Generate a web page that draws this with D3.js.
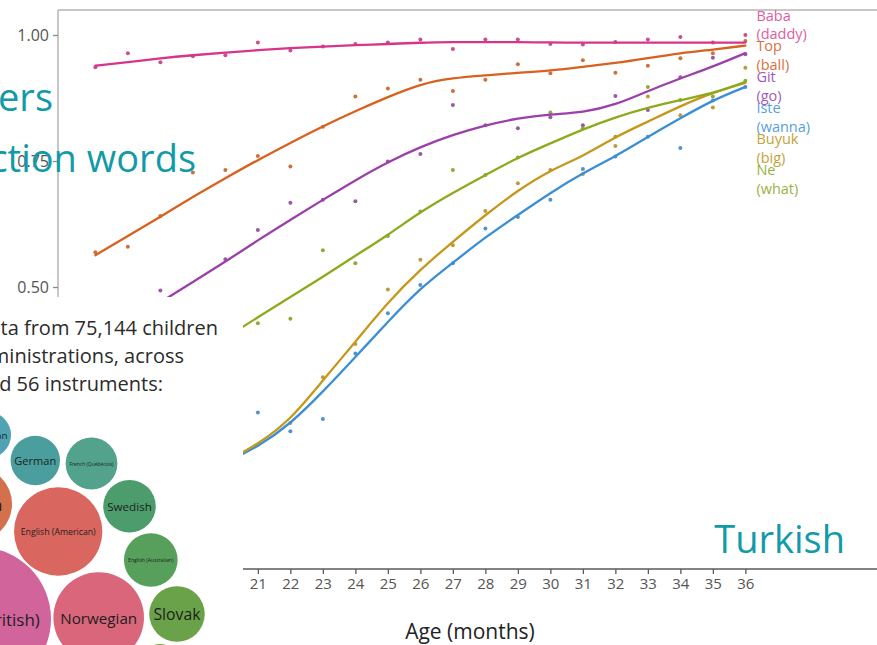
<!DOCTYPE html>
<html><head><meta charset="utf-8">
<script src="https://cdn.jsdelivr.net/npm/d3@7"></script>
<style>
body{margin:0;background:#fff;overflow:hidden;}
svg{display:block;font-family:"Open Sans",sans-serif;}
</style>
</head><body>
<svg id="c" width="877" height="645"></svg>
<script>
// ---------- data ----------
const months = [16,17,18,19,20,21,22,23,24,25,26,27,28,29,30,31,32,33,34,35,36];
const seriesNames = ["Baba","Top","Git","Iste","Buyuk","Ne"];
const seriesGloss = ["(daddy)","(ball)","(go)","(wanna)","(big)","(what)"];

const babaPoints  = [0.936,0.964,0.946,0.958,0.960,0.985,0.969,0.977,0.982,0.985,0.991,0.972,0.991,0.991,0.982,0.981,0.986,0.991,0.996,0.985,1.000];
const topPoints   = [0.569,0.580,0.641,0.727,0.732,0.760,0.739,0.818,0.878,0.894,0.911,0.889,0.911,0.942,0.924,0.950,0.925,0.939,0.954,0.964,0.988];
const gitPoints   = [0.390,0.420,0.493,0.470,0.555,0.613,0.667,0.673,0.670,0.749,0.764,0.861,0.821,0.815,0.837,0.821,0.879,0.851,0.916,0.955,0.962];
const istePoints  = [0.030,0.050,0.080,0.110,0.150,0.251,0.214,0.238,0.368,0.448,0.504,0.547,0.616,0.639,0.673,0.734,0.759,0.798,0.776,0.870,0.897];
const buyukPoints = [0.050,0.070,0.090,0.120,0.150,0.187,0.230,0.321,0.387,0.495,0.554,0.583,0.651,0.706,0.732,0.724,0.780,0.878,0.841,0.856,0.935];
const nePoints    = [0.220,0.270,0.310,0.360,0.400,0.428,0.437,0.573,0.547,0.601,0.650,0.732,0.722,0.757,0.846,0.815,0.798,0.897,0.871,0.878,0.909];

const babaSmooth  = [0.939,0.946,0.954,0.960,0.965,0.970,0.974,0.977,0.980,0.982,0.985,0.986,0.986,0.986,0.985,0.985,0.985,0.985,0.985,0.985,0.985];
const topSmooth   = [0.563,0.601,0.639,0.679,0.716,0.752,0.786,0.819,0.849,0.877,0.903,0.915,0.920,0.925,0.929,0.937,0.944,0.954,0.964,0.971,0.979];
const gitSmooth   = [0.383,0.429,0.470,0.510,0.550,0.593,0.633,0.673,0.712,0.748,0.778,0.802,0.821,0.835,0.843,0.846,0.861,0.889,0.914,0.937,0.964];
const isteSmooth  = [0.018,0.048,0.081,0.117,0.151,0.183,0.228,0.292,0.361,0.431,0.498,0.548,0.599,0.643,0.687,0.726,0.759,0.798,0.835,0.871,0.897];
const buyukSmooth = [0.044,0.067,0.093,0.121,0.153,0.188,0.236,0.315,0.391,0.470,0.535,0.590,0.643,0.692,0.732,0.759,0.798,0.828,0.859,0.886,0.905];
const neSmooth    = [0.224,0.268,0.312,0.355,0.399,0.440,0.480,0.520,0.562,0.603,0.649,0.687,0.722,0.757,0.785,0.813,0.837,0.856,0.871,0.884,0.907];

const xTickValues = [16,17,18,19,20,21,22,23,24,25,26,27,28,29,30,31,32,33,34,35,36];
const yTickValues = [0.00,0.25,0.50,0.75,1.00];

// inset bubble chart (values: relative sample size)
const bubbleNames  = ["Croatian","German","French (Québécois)","Danish","English (American)","Swedish","English (Australian)","English (British)","Norwegian","Slovak","Latvian"];
const bubbleValues = [53,61,67,137,195,69,72,518,205,77,48];

const insetLines = ["ta from 75,144 children","ministrations, across","d 56 instruments:"];

// ---------- styles / layout ----------
const lineColors  = ["#d6358a","#d9611f","#9b40a9","#3a8fd4","#c4981b","#8bab1c"];
const labelColors = ["#dc5fa1","#d9703d","#a25ab6","#5a9fd8","#c3a23c","#97b33f"];
const bubbleColors = ["#4fa3b3","#4a9e9e","#53a28c","#d4704c","#d9675f","#4c9c6c","#56a05c","#d2649c","#d9667a","#6aa24a","#79a640"];
const bubbleLayout = [[-12,435],[35.3,460.5],[91.5,463.5],[-25,504],[58.2,531.5],[129.5,506.2],[150.8,560],[-21,619],[98.7,617.6],[177,614],[160,666]];
const teal = "#129aa9";

const pointsArr = [babaPoints,topPoints,gitPoints,istePoints,buyukPoints,nePoints];
const smoothArr = [babaSmooth,topSmooth,gitSmooth,isteSmooth,buyukSmooth,neSmooth];

const svg = d3.select("#c");
const P = {left:58, right:877, top:10, bottom:569};

const x = d3.scaleLinear().domain([14.85, 40.05]).range([P.left, P.right]);
const y = d3.scaleLinear().domain([-0.0595, 1.0496]).range([P.bottom, P.top]);

const plot = svg.append("g");

// points
pointsArr.forEach((arr,i)=>{
  plot.append("g").selectAll("circle").data(arr).join("circle")
    .attr("cx",(d,j)=>x(months[j])).attr("cy",d=>y(d)).attr("r",2)
    .attr("fill",d3.color(lineColors[i]).darker(0.3)).attr("opacity",0.85);
});
// smooth lines
const line = d3.line().x((d,j)=>x(months[j])).y(d=>y(d)).curve(d3.curveBasis);
smoothArr.forEach((arr,i)=>{
  plot.append("path").datum(arr).attr("d",line).attr("fill","none")
    .attr("stroke",lineColors[i]).attr("stroke-width",2.3).attr("stroke-linecap","round");
});

// panel border (top & left light), bottom axis
svg.append("line").attr("x1",P.left).attr("x2",P.right).attr("y1",P.top).attr("y2",P.top)
  .attr("stroke","#b4b4b4").attr("stroke-width",1.5);
svg.append("line").attr("x1",P.left).attr("x2",P.left).attr("y1",P.top).attr("y2",P.bottom)
  .attr("stroke","#b4b4b4").attr("stroke-width",1.5);

// y axis
const yAxis = d3.axisLeft(y).tickValues(yTickValues).tickFormat(d3.format(".2f")).tickSize(5).tickPadding(4);
const gy = svg.append("g").attr("transform",`translate(${P.left},0)`).call(yAxis);
gy.select(".domain").remove();
gy.selectAll(".tick line").attr("stroke","#8a8a8a").attr("stroke-width",1.3);
gy.selectAll(".tick text").attr("fill","#555").style("font-size","16px").style("font-family","Open Sans");

// x axis
const xAxis = d3.axisBottom(x).tickValues(xTickValues).tickSize(5).tickPadding(4);
const gx = svg.append("g").attr("transform",`translate(0,${P.bottom})`).call(xAxis);
gx.select(".domain").attr("d",`M${P.left},0H${P.right}`).attr("stroke","#5a5a5a").attr("stroke-width",1.6);
gx.selectAll(".tick line").attr("stroke","#5a5a5a").attr("stroke-width",1.3);
gx.selectAll(".tick text").attr("fill","#555").style("font-size","15px").style("font-family","Open Sans");

svg.append("text").attr("x",470).attr("y",639).attr("text-anchor","middle")
  .attr("fill","#222").style("font-size","21px").text("Age (months)");

// direct labels
seriesNames.forEach((n,i)=>{
  const t = svg.append("text").attr("x",x(36)+11).attr("y",20.5+i*30.9)
    .attr("fill",labelColors[i]).style("font-size","14.5px");
  t.append("tspan").attr("x",x(36)+11).text(n);
  t.append("tspan").attr("x",x(36)+11).attr("dy",18.5).text(seriesGloss[i]);
});

// ---------- slide overlays ----------
svg.append("text").attr("x",53).attr("y",111).attr("text-anchor","end")
  .attr("fill",teal).style("font-size","38px").text("ers");
svg.append("text").attr("x",196).attr("y",172).attr("text-anchor","end")
  .attr("fill",teal).style("font-size","38px").text("ction words");
svg.append("text").attr("x",845).attr("y",553).attr("text-anchor","end")
  .attr("fill",teal).style("font-size","38px").text("Turkish");

// inset (white box with text + bubble chart)
const inset = svg.append("g");
inset.append("rect").attr("x",0).attr("y",297).attr("width",243).attr("height",348).attr("fill","#fff");
const insetRight = [218,184,163];
insetLines.forEach((s,i)=>{
  inset.append("text").attr("x",insetRight[i]).attr("y",335+i*28).attr("text-anchor","end")
    .attr("fill","#2b2b2b").style("font-size","20px").text(s);
});
const rScale = d3.scaleSqrt().domain([0,d3.max(bubbleValues)]).range([0,72]);
const bg = inset.append("g");
bubbleNames.forEach((n,i)=>{
  const [cx,cy] = bubbleLayout[i];
  const r = rScale(bubbleValues[i]);
  bg.append("circle").attr("cx",cx).attr("cy",cy).attr("r",r).attr("fill",bubbleColors[i]);
  const t = bg.append("text").attr("x",cx).attr("y",cy).attr("text-anchor","middle")
    .attr("dominant-baseline","central").attr("fill","#1e1e1e").style("font-size","10px").text(n);
  const w = t.node().getComputedTextLength();
  const fs = Math.min(17, 10*(2*r*0.85)/w);
  t.style("font-size",fs+"px");
});
</script>
</body></html>
